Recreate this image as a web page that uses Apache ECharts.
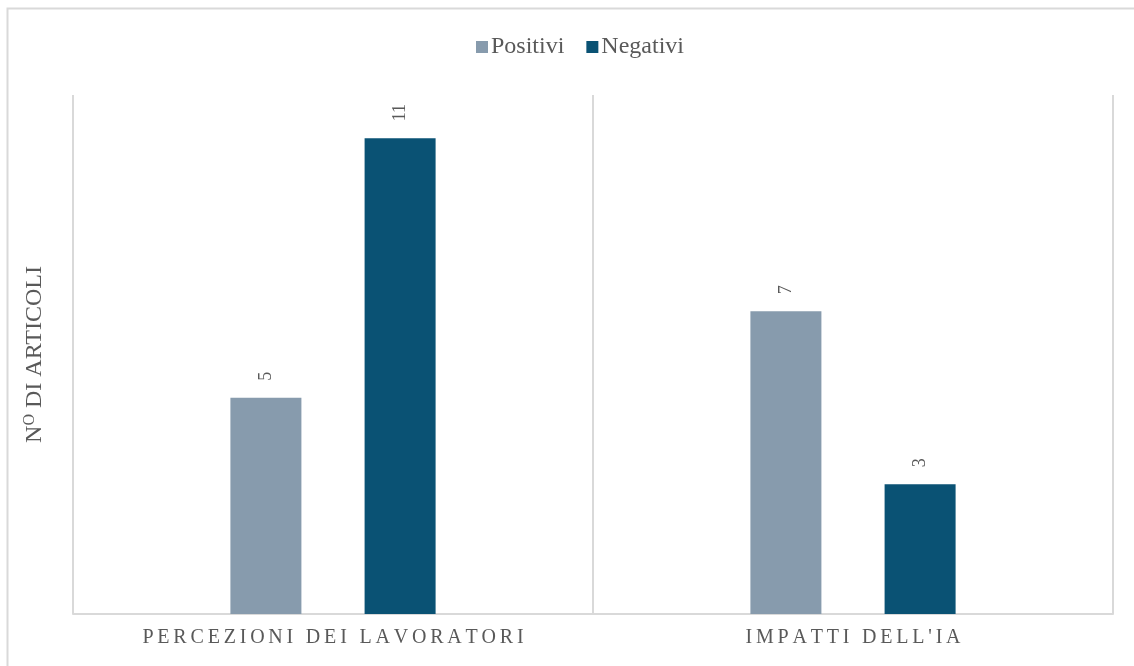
<!DOCTYPE html>
<html>
<head>
<meta charset="utf-8">
<script src="https://cdn.jsdelivr.net/npm/echarts@6/dist/echarts.min.js"></script>
<style>
  html, body { margin: 0; padding: 0; background: #fff; }
  #chart { width: 1134px; height: 666px; }
</style>
</head>
<body>
<div id="chart"></div>
<script>
// dati
var categories = ['PERCEZIONI DEI LAVORATORI', "IMPATTI DELL'IA"]
var positivi = [5, 7]
var negativi = [11, 3]
var yMax = 12

var textColor = '#595959'
var lineColor = '#D9D9D9'
var font = '"Liberation Serif", "DejaVu Serif", serif'

var myChart = echarts.init(document.getElementById('chart'))

var barLabel = {
  show: true,
  position: 'top',
  rotate: 90,
  align: 'left',
  verticalAlign: 'middle',
  distance: 17,
  color: textColor,
  fontFamily: font,
  fontSize: 18
}

myChart.setOption({
  animation: false,
  backgroundColor: '#fff',
  textStyle: { fontFamily: font },
  graphic: [{
    type: 'rect',
    silent: true,
    shape: { x: 7.5, y: 8.5, width: 1200, height: 700 },
    style: { fill: 'none', stroke: lineColor, lineWidth: 2 }
  }],
  legend: {
    top: 30,
    left: 471,
    itemWidth: 12,
    itemHeight: 12,
    itemGap: 22,
    icon: 'rect',
    textStyle: { color: textColor, fontSize: 24, fontFamily: font, padding: [0, 0, 0, -2] },
    data: ['Positivi', 'Negativi']
  },
  grid: {
    left: 73,
    right: 21,
    top: 95,
    bottom: 52,
    containLabel: false
  },
  xAxis: {
    type: 'category',
    data: categories,
    axisLine: { lineStyle: { color: lineColor, width: 2 } },
    axisTick: { show: false },
    splitLine: { show: true, interval: 0, lineStyle: { color: lineColor, width: 2 } },
    axisLabel: {
      interval: 0,
      color: textColor,
      fontSize: 20,
      fontFamily: font,
      margin: 14,
      // spaziatura tra le lettere come nell'originale
      formatter: function (v) {
        return v.split('').map(function (ch) { return '{s|' + ch + '}' }).join('')
      },
      rich: {
        s: { color: textColor, fontSize: 20, fontFamily: font, padding: [0, 1.9, 0, 1.9] }
      }
    }
  },
  yAxis: {
    type: 'value',
    min: 0,
    max: yMax,
    name: 'N{sup|O} DI ARTICOLI',
    nameLocation: 'middle',
    nameGap: 26,
    nameRotate: 90,
    nameTextStyle: {
      color: textColor,
      fontSize: 24,
      fontFamily: font,
      rich: {
        sup: { fontSize: 16, color: textColor, fontFamily: font, padding: [0, 0, 9, 0] }
      }
    },
    axisLine: { show: false },
    axisTick: { show: false },
    axisLabel: { show: false },
    splitLine: { show: false }
  },
  series: [{
    name: 'Positivi',
    type: 'bar',
    barWidth: 71,
    barGap: '89%',
    itemStyle: { color: '#879BAD' },
    label: barLabel,
    data: positivi
  }, {
    name: 'Negativi',
    type: 'bar',
    barWidth: 71,
    barGap: '89%',
    itemStyle: { color: '#0A5274' },
    label: barLabel,
    data: negativi
  }]
})
</script>
</body>
</html>
